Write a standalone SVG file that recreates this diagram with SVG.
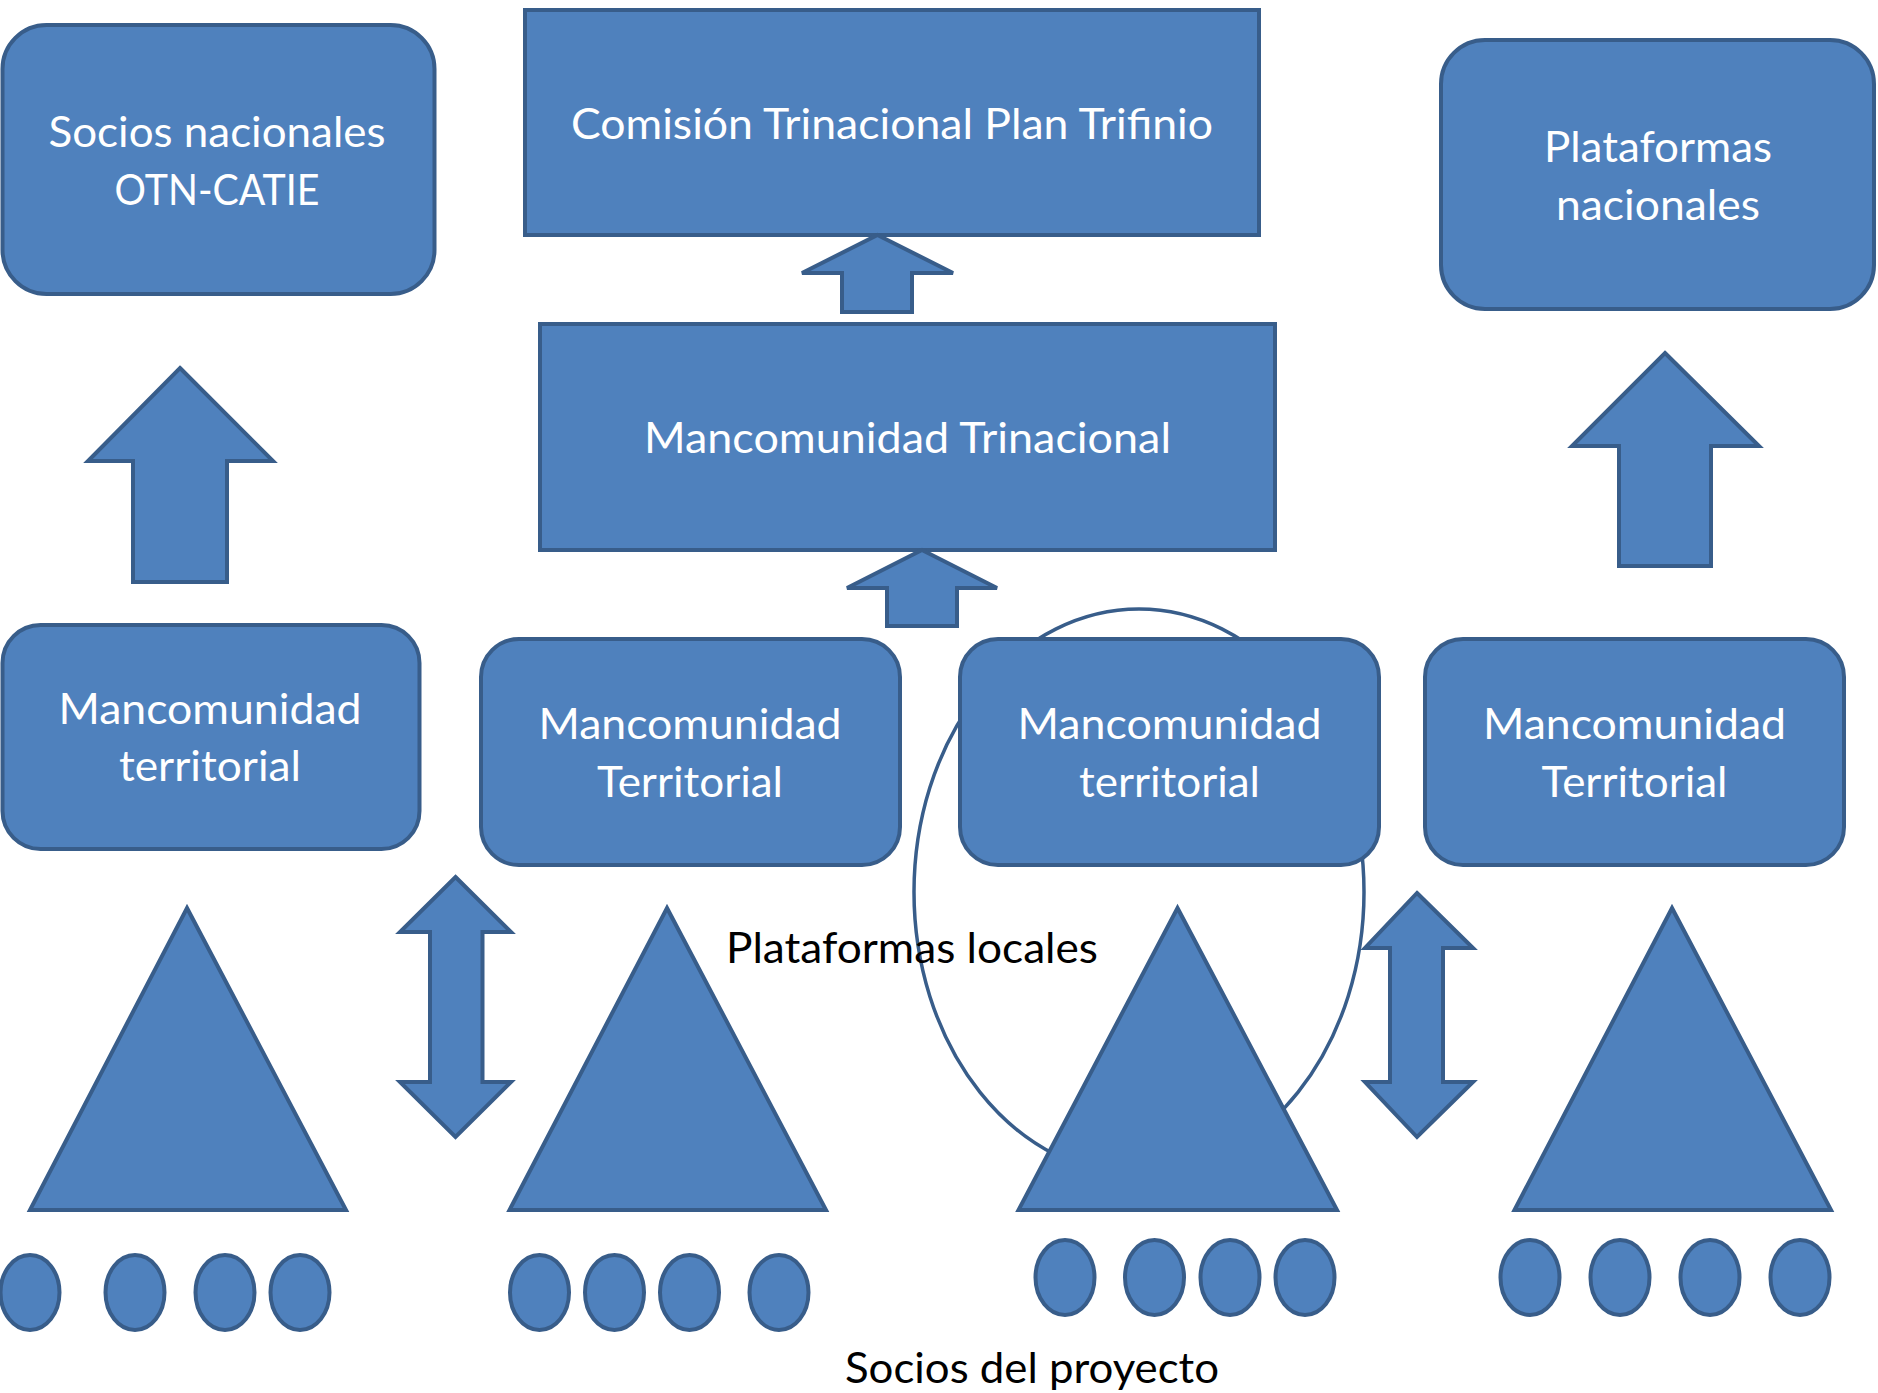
<svg xmlns="http://www.w3.org/2000/svg" width="1878" height="1393" viewBox="0 0 1878 1393">
<style>
.shape{fill:#4F81BD;stroke:#385D8A;stroke-width:4;stroke-linejoin:miter}
.outline{fill:none;stroke:#385D8A;stroke-width:3.5}
.w{fill:#FFFFFF;font-family:Lato,"Open Sans",sans-serif;font-size:42px;text-anchor:middle}
.k{fill:#000000;font-family:Lato,"Open Sans",sans-serif;font-size:42px}
</style>
<rect width="1878" height="1393" fill="#FFFFFF"/>
<g id="plataformas-locales-ellipse">
<ellipse class="outline" cx="1139" cy="892" rx="225" ry="283"/>
</g>
<g id="socios-nacionales">
<rect class="shape" x="2.5" y="25" width="432" height="269" rx="44" ry="44"/>
<text class="w" x="217" y="147" textLength="337" lengthAdjust="spacingAndGlyphs">Socios nacionales</text>
<text class="w" x="217" y="205" textLength="205" lengthAdjust="spacingAndGlyphs">OTN-CATIE</text>
</g>
<g id="comision-trinacional">
<rect class="shape" x="525" y="10" width="734" height="225"/>
<text class="w" x="892" y="139" textLength="642" lengthAdjust="spacingAndGlyphs">Comisión Trinacional Plan Trifinio</text>
</g>
<g id="plataformas-nacionales">
<rect class="shape" x="1441" y="40" width="433" height="269" rx="44" ry="44"/>
<text class="w" x="1658" y="162" textLength="228" lengthAdjust="spacingAndGlyphs">Plataformas</text>
<text class="w" x="1658" y="220" textLength="204" lengthAdjust="spacingAndGlyphs">nacionales</text>
</g>
<g id="mancomunidad-trinacional">
<rect class="shape" x="540" y="324" width="735" height="226"/>
<text class="w" x="907.5" y="453" textLength="527" lengthAdjust="spacingAndGlyphs">Mancomunidad Trinacional</text>
</g>
<g id="mancomunidad-1">
<rect class="shape" x="2.5" y="625" width="417" height="224" rx="38" ry="38"/>
<text class="w" x="210" y="724" textLength="303" lengthAdjust="spacingAndGlyphs">Mancomunidad</text>
<text class="w" x="210" y="781" textLength="182" lengthAdjust="spacingAndGlyphs">territorial</text>
</g>
<g id="mancomunidad-2">
<rect class="shape" x="481" y="639" width="419" height="226" rx="38" ry="38"/>
<text class="w" x="690" y="739" textLength="303" lengthAdjust="spacingAndGlyphs">Mancomunidad</text>
<text class="w" x="690" y="797" textLength="186" lengthAdjust="spacingAndGlyphs">Territorial</text>
</g>
<g id="mancomunidad-3">
<rect class="shape" x="960" y="639" width="419" height="226" rx="38" ry="38"/>
<text class="w" x="1169.5" y="739" textLength="304" lengthAdjust="spacingAndGlyphs">Mancomunidad</text>
<text class="w" x="1169.5" y="797" textLength="181" lengthAdjust="spacingAndGlyphs">territorial</text>
</g>
<g id="mancomunidad-4">
<rect class="shape" x="1425" y="639" width="419" height="226" rx="38" ry="38"/>
<text class="w" x="1634.5" y="739" textLength="303" lengthAdjust="spacingAndGlyphs">Mancomunidad</text>
<text class="w" x="1634.5" y="797" textLength="186" lengthAdjust="spacingAndGlyphs">Territorial</text>
</g>
<g id="triangulo-1"><polygon class="shape" points="187,908 346,1210 30,1210"/></g>
<g id="triangulo-2"><polygon class="shape" points="667,908 826,1210 509.5,1210"/></g>
<g id="triangulo-3"><polygon class="shape" points="1177.5,908 1337,1210 1018.5,1210"/></g>
<g id="triangulo-4"><polygon class="shape" points="1672,908 1831,1210 1514.5,1210"/></g>
<g id="connectors">
<polygon class="shape" points="180,368 273,461 227,461 227,582 133,582 133,461 88,461"/>
<polygon class="shape" points="1665,353 1759,446 1711,446 1711,566 1619,566 1619,446 1572,446"/>
<polygon class="shape" points="877.5,235 953,273 912,273 912,312 842,312 842,273 802,273"/>
<polygon class="shape" points="922,550 997,588 957,588 957,626 887,626 887,588 847,588"/>
<polygon class="shape" points="455.5,877 511,932 482.5,932 482.5,1082 511,1082 455.5,1137 400,1082 430,1082 430,932 400,932"/>
<polygon class="shape" points="1417,893 1473,948 1443,948 1443,1082 1473,1082 1417,1137 1365,1082 1390,1082 1390,948 1365,948"/>
</g>
<g id="socios-1">
<ellipse class="shape" cx="30" cy="1292.5" rx="29.5" ry="37.5"/>
<ellipse class="shape" cx="135" cy="1292.5" rx="29.5" ry="37.5"/>
<ellipse class="shape" cx="225" cy="1292.5" rx="29.5" ry="37.5"/>
<ellipse class="shape" cx="300" cy="1292.5" rx="29.5" ry="37.5"/>
</g>
<g id="socios-2">
<ellipse class="shape" cx="539.5" cy="1292.5" rx="29.5" ry="37.5"/>
<ellipse class="shape" cx="614.5" cy="1292.5" rx="29.5" ry="37.5"/>
<ellipse class="shape" cx="689.5" cy="1292.5" rx="29.5" ry="37.5"/>
<ellipse class="shape" cx="779" cy="1292.5" rx="29.5" ry="37.5"/>
</g>
<g id="socios-3">
<ellipse class="shape" cx="1065" cy="1277.5" rx="29.5" ry="37.5"/>
<ellipse class="shape" cx="1154.5" cy="1277.5" rx="29.5" ry="37.5"/>
<ellipse class="shape" cx="1230" cy="1277.5" rx="29.5" ry="37.5"/>
<ellipse class="shape" cx="1305" cy="1277.5" rx="29.5" ry="37.5"/>
</g>
<g id="socios-4">
<ellipse class="shape" cx="1530" cy="1277.5" rx="29.5" ry="37.5"/>
<ellipse class="shape" cx="1620" cy="1277.5" rx="29.5" ry="37.5"/>
<ellipse class="shape" cx="1710" cy="1277.5" rx="29.5" ry="37.5"/>
<ellipse class="shape" cx="1800" cy="1277.5" rx="29.5" ry="37.5"/>
</g>
<g id="label-plataformas-locales">
<text class="k" x="726" y="963" textLength="372" lengthAdjust="spacingAndGlyphs">Plataformas locales</text>
</g>
<g id="label-socios-proyecto">
<text class="k" x="845" y="1383" textLength="374" lengthAdjust="spacingAndGlyphs">Socios del proyecto</text>
</g>
</svg>
